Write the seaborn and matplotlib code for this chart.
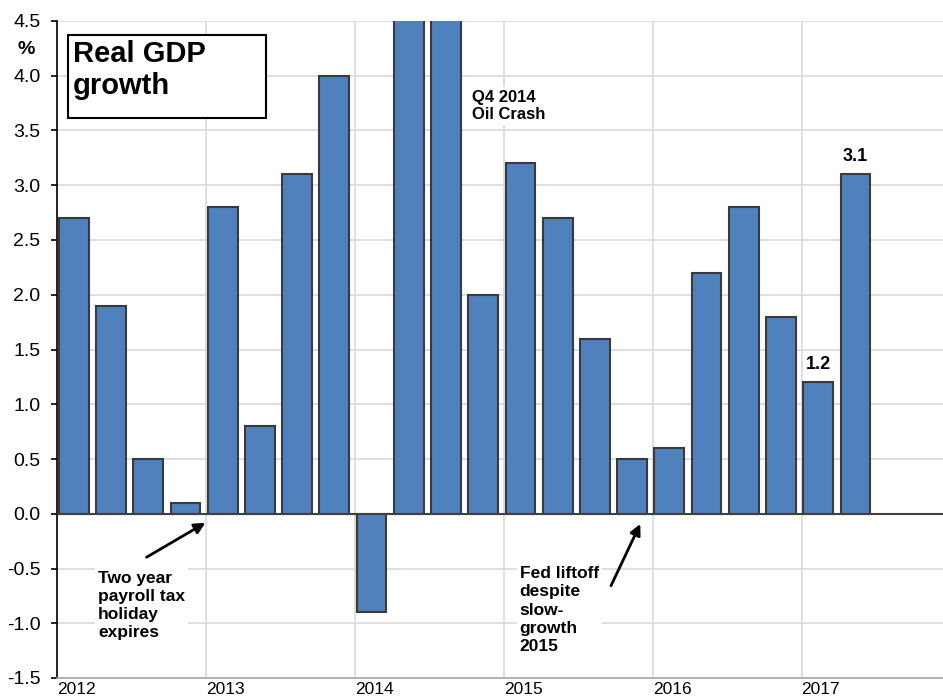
import numpy as np
import pandas as pd
import matplotlib
matplotlib.use("Agg")
import matplotlib.pyplot as plt
import matplotlib.patches as patches
from matplotlib.ticker import FormatStrFormatter
import seaborn as sns

# -----------------------------
# DATA
# -----------------------------
quarters = ["2012Q1", "2012Q2", "2012Q3", "2012Q4",
            "2013Q1", "2013Q2", "2013Q3", "2013Q4",
            "2014Q1", "2014Q2", "2014Q3", "2014Q4",
            "2015Q1", "2015Q2", "2015Q3", "2015Q4",
            "2016Q1", "2016Q2", "2016Q3", "2016Q4",
            "2017Q1", "2017Q2"]
growth = [2.7, 1.9, 0.5, 0.1,
          2.8, 0.8, 3.1, 4.0,
          -0.9, 4.6, 5.2, 2.0,
          3.2, 2.7, 1.6, 0.5,
          0.6, 2.2, 2.8, 1.8,
          1.2, 3.1]
year_labels = ["2012", "2013", "2014", "2015", "2016", "2017"]
labelled = {"2017Q1": "1.2", "2017Q2": "3.1"}

df = pd.DataFrame({"quarter": quarters, "growth": growth})
# bar centre sits a bit left of the middle of each quarter slot
df["pos"] = np.arange(len(df)) + 0.45

# -----------------------------
# STYLE
# -----------------------------
sns.set_theme(style="whitegrid")
plt.rcParams["font.family"] = ["Liberation Sans", "DejaVu Sans"]
plt.rcParams["axes.unicode_minus"] = False
plt.rcParams["text.color"] = "black"

fig = plt.figure(figsize=(9.43, 7), dpi=100)
ax = fig.add_axes([57 / 943, 22 / 700, 886 / 943, 657 / 700])

# -----------------------------
# BARS
# -----------------------------
sns.barplot(data=df, x="pos", y="growth", native_scale=True, width=0.8,
            color="#4F81BD", saturation=1, edgecolor="#3A3A3A",
            linewidth=1.5, ax=ax, zorder=3)

ax.set_xlim(0, 23.8)
ax.set_ylim(-1.5, 4.5)
ax.set_yticks(np.arange(-1.5, 4.51, 0.5))
ax.yaxis.set_major_formatter(FormatStrFormatter("%.1f"))
ax.set_xticks(np.arange(0, len(year_labels) * 4, 4))
ax.set_xticklabels(year_labels, ha="left")
ax.set_xlabel("")
ax.set_ylabel("")

ax.grid(True, color="#D9D9D9", linewidth=1.2, zorder=0)
ax.set_axisbelow(True)
ax.axhline(0, color="#404040", linewidth=1.5, zorder=4)

for side in ["top", "right"]:
    ax.spines[side].set_visible(False)
ax.spines["left"].set_color("black")
ax.spines["left"].set_linewidth(1.2)
ax.spines["bottom"].set_color("#A6A6A6")
ax.spines["bottom"].set_linewidth(1.2)

ax.tick_params(axis="y", left=True, length=4.3, width=1.2, color="black",
               pad=7.5, labelsize=14, labelcolor="black")
ax.tick_params(axis="x", bottom=False, length=0, pad=3, labelsize=12.5,
               labelcolor="black")

# -----------------------------
# VALUE LABELS
# -----------------------------
bar_texts = [labelled.get(q, "") for q in quarters]
ax.bar_label(ax.containers[0], labels=bar_texts, padding=7,
             fontsize=13, fontweight="bold", color="black")

# -----------------------------
# ANNOTATIONS
# -----------------------------
white = dict(facecolor="white", edgecolor="none", pad=2)

ax.text(11.14, 3.87, "Q4 2014\nOil Crash", fontsize=12, fontweight="bold",
        va="top", ha="left", linespacing=1.2, bbox=white, zorder=5)

ax.text(1.10, -0.52, "Two year\npayroll tax\nholiday\nexpires", fontsize=12.5,
        fontweight="bold", va="top", ha="left", linespacing=1.26,
        bbox=white, zorder=5)
ax.annotate("", xy=(4.05, -0.07), xytext=(2.34, -0.41),
            arrowprops=dict(arrowstyle="-|>", color="black", lw=2,
                            mutation_scale=16), zorder=6)

ax.text(12.43, -0.48, "Fed liftoff\ndespite\nslow-\ngrowth\n2015", fontsize=12.5,
        fontweight="bold", va="top", ha="left", linespacing=1.26,
        bbox=white, zorder=5)
ax.annotate("", xy=(15.70, -0.07), xytext=(14.85, -0.68),
            arrowprops=dict(arrowstyle="-|>", color="black", lw=2,
                            mutation_scale=16), zorder=6)

# title box
fig.patches.append(patches.Rectangle((68 / 943, 1 - 118 / 700), 198 / 943, 83 / 700,
                                     transform=fig.transFigure, facecolor="white",
                                     edgecolor="black", linewidth=1.5, zorder=10))
fig.text(73 / 943, 1 - 40 / 700, "Real GDP\ngrowth", fontsize=21,
         fontweight="bold", va="top", ha="left", linespacing=1.17, zorder=11)

fig.text(26 / 943, 1 - 49 / 700, "%", fontsize=14, fontweight="bold",
         ha="center", va="center")

fig.savefig("out.png", dpi=100)
